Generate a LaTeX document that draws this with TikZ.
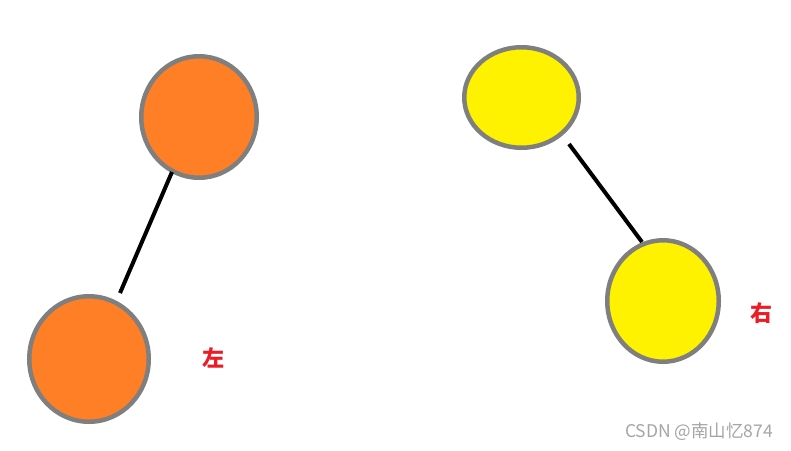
\documentclass[tikz,border=0pt]{standalone}
\usepackage{fontspec}
\newfontfamily\cjk{Noto Sans CJK SC}
\usetikzlibrary{shapes.geometric}
\definecolor{paintorange}{RGB}{255,127,39}
\definecolor{paintyellow}{RGB}{255,242,0}
\definecolor{paintred}{RGB}{237,28,36}
\definecolor{rim}{RGB}{127,127,127}
\definecolor{wm}{RGB}{165,165,165}
\tikzset{
  ball/.style={ellipse, draw=rim, line width=4.5pt, inner sep=0pt},
  orangeball/.style={ball, fill=paintorange},
  yellowball/.style={ball, fill=paintyellow},
  link/.style={draw=black, line width=4pt},
  side/.style={text=paintred, font=\cjk\bfseries\fontsize{22}{22}\selectfont, inner sep=0pt},
}
\begin{document}
\begin{tikzpicture}[x=1pt,y=-1pt]
\useasboundingbox (0,0) rectangle (791,450);
\fill[white] (0,0) rectangle (791,450);
\node[orangeball, minimum width=115.5pt, minimum height=121.5pt] (o1) at (199,117) {};
\node[orangeball, minimum width=119.5pt, minimum height=125.5pt] (o2) at (89,359) {};
\node[yellowball, minimum width=114.5pt, minimum height=100.5pt] (y1) at (521.5,97.5) {};
\node[yellowball, minimum width=111.5pt, minimum height=121.5pt] (y2) at (663,301) {};
\coordinate (a1) at (172,172);
\coordinate (a2) at (120,293);
\coordinate (b1) at (569,144);
\coordinate (b2) at (642,242);
\draw[link] (a1) -- (a2);
\draw[link] (b1) -- (b2);
\node[side] (left) at (213,358) {左};
\node[side] (right) at (761,313) {右};
\node[text=wm, font=\cjk\fontsize{17.5}{17.5}\selectfont, inner sep=0pt] (mark) at (699,432) {CSDN @南山忆874};
\end{tikzpicture}
\end{document}
